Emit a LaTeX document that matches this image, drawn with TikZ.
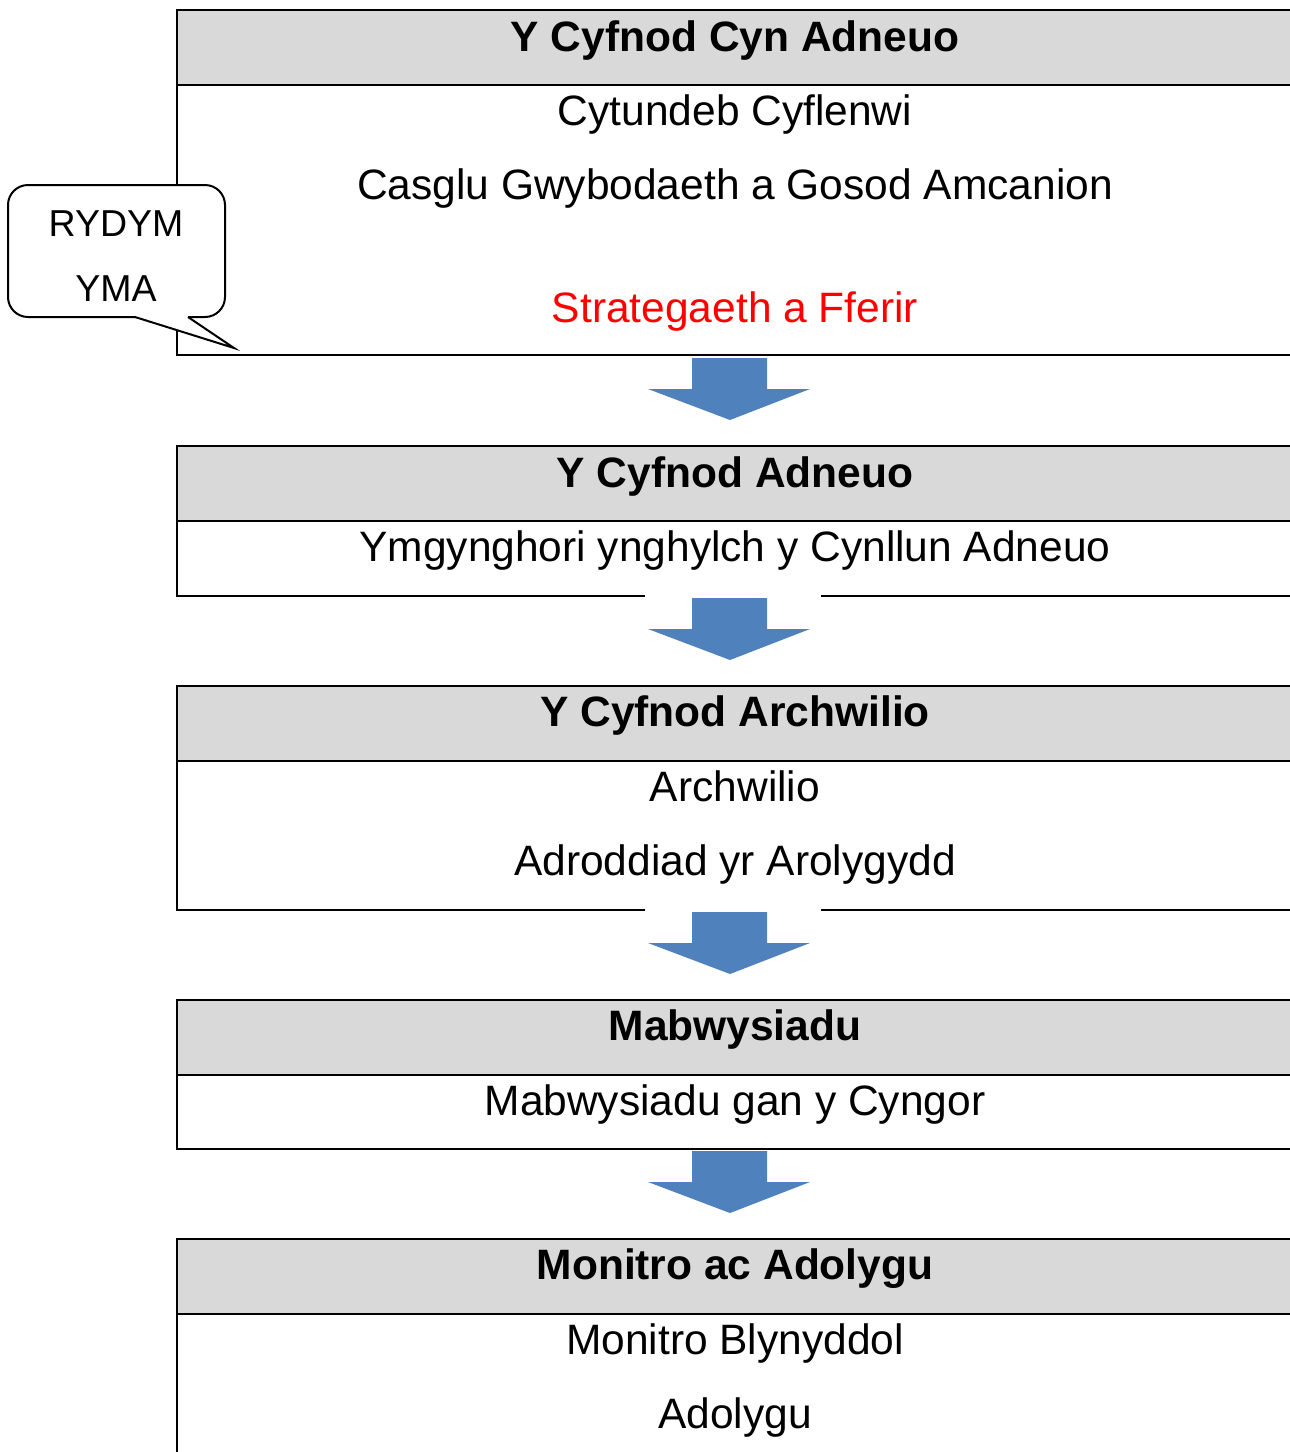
\documentclass[tikz,border=0pt]{standalone}
\usepackage{fontspec}
\setmainfont{Liberation Sans}
\definecolor{headgray}{HTML}{D9D9D9}
\definecolor{arrowblue}{HTML}{4F81BD}
\tikzset{
	frame/.style={line width=2pt},
	headtext/.style={anchor=base, font=\fontsize{42.5}{50}\selectfont\bfseries},
	bodytext/.style={anchor=base, font=\fontsize{42.5}{50}\selectfont},
	calltext/.style={anchor=base, font=\fontsize{37.5}{44}\selectfont},
}
\begin{document}
\begin{tikzpicture}[x=1pt,y=-1pt]
		\useasboundingbox (0,0) rectangle (1290,1452);
		\clip (0,0) rectangle (1290,1452);
		% the five stages
		\foreach \ya/\yb/\yc in {10/85/355, 446/521/596, 686/761/910, 1000/1075/1149, 1239/1314/1480}{
			\fill[headgray] (177,\ya) rectangle (1300,\yb);
			\draw[frame] (1300,\ya) -- (177,\ya) -- (177,\yc) -- (1300,\yc);
			\draw[frame] (177,\yb) -- (1300,\yb);
		}
		\fill[white] (645,592) rectangle (821,600);
		\fill[white] (645,906) rectangle (821,914);
		% block arrows
		\foreach \ya in {358,598,912,1151}
			\fill[arrowblue] (692,\ya) -- (767,\ya) -- (767,\ya+31) -- (810,\ya+31) -- (730,\ya+62) -- (648,\ya+31) -- (692,\ya+31) -- cycle;
		% texts
		\node[headtext] (pre) at (735,51) {Y Cyfnod Cyn Adneuo};
		\node[bodytext] (supply) at (735,125) {Cytundeb Cyflenwi};
		\node[bodytext] (gather) at (735,199) {Casglu Gwybodaeth a Gosod Amcanion};
		\node[bodytext, text=red] (strategy) at (735,322) {Strategaeth a Fferir};
		\node[headtext] (deposit) at (735,487) {Y Cyfnod Adneuo};
		\node[bodytext] (consult) at (735,561) {Ymgynghori ynghylch y Cynllun Adneuo};
		\node[headtext] (exam) at (735,726) {Y Cyfnod Archwilio};
		\node[bodytext] (examine) at (735,801) {Archwilio};
		\node[bodytext] (report) at (735,875) {Adroddiad yr Arolygydd};
		\node[headtext] (adopt) at (735,1040) {Mabwysiadu};
		\node[bodytext] (council) at (735,1115) {Mabwysiadu gan y Cyngor};
		\node[headtext] (monitor) at (735,1279) {Monitro ac Adolygu};
		\node[bodytext] (annual) at (735,1354) {Monitro Blynyddol};
		\node[bodytext] (review) at (735,1428) {Adolygu};
		% callout
		\draw[frame, fill=white, rounded corners=20pt] (8,185) rectangle (225,317);
		\fill[white] (135,317) -- (234,348) -- (188,317) -- (188,314) -- (135,314) -- cycle;
		\draw[frame] (135,317) -- (234,348) -- (188,317);
		\node[calltext] (here1) at (116,236) {RYDYM};
		\node[calltext] (here2) at (116,301) {YMA};
	\end{tikzpicture}
\end{document}
